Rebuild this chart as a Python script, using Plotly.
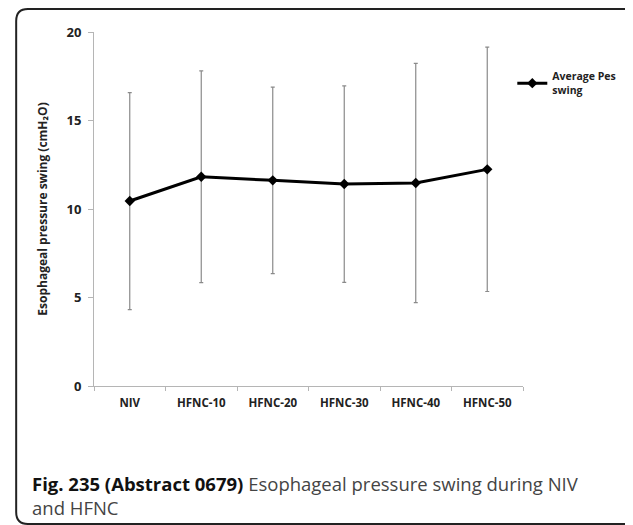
import plotly.graph_objects as go

# values
categories = ["NIV", "HFNC-10", "HFNC-20", "HFNC-30", "HFNC-40", "HFNC-50"]
avg_pes_swing = [10.45, 11.82, 11.62, 11.41, 11.47, 12.24]
sd_pes_swing = [6.13, 5.98, 5.27, 5.55, 6.76, 6.9]

y_ticks = [0, 5, 10, 15, 20]

# page body has an 8px margin, so the figure is drawn 8px smaller
W, H = 625, 517
L, T = 86, 24
pw, ph = 441, 354
R = W - L - pw
B = H - T - ph
OFF = 8


def px_x(x):
	# screen pixel -> paper x
	return (x - OFF - L) / pw


def px_y(y):
	# screen pixel -> paper y
	return (T + ph - (y - OFF)) / ph


fig = go.Figure()
fig.add_trace(go.Scatter(
	name="Average Pes<br>swing",
	x=categories,
	y=avg_pes_swing,
	mode="lines+markers",
	line=dict(color="black", width=3),
	marker=dict(symbol="diamond", size=8, color="black"),
	error_y=dict(type="data", array=sd_pes_swing, visible=True,
		color="#8a8a8a", thickness=1.2, width=2)))

fig.update_layout(
	width=W, height=H,
	margin=dict(l=L, r=R, t=T, b=B),
	plot_bgcolor="white", paper_bgcolor="white",
	font=dict(family="Open Sans", color="#222"),
	showlegend=True,
	legend=dict(x=px_x(524), y=px_y(63), xanchor="left", yanchor="top",
		font=dict(size=10.5, color="#222", weight="bold"),
		itemwidth=30, bgcolor="rgba(0,0,0,0)", tracegroupgap=0))

fig.update_xaxes(
	range=[-0.5, 5.5],
	showgrid=False, showline=True, linecolor="#b5b5b5", linewidth=1,
	ticks="outside", tickson="boundaries", ticklen=4, tickcolor="#b5b5b5",
	ticklabelstandoff=6,
	tickfont=dict(size=11.5, color="#222", weight="bold"))

fig.update_yaxes(
	range=[0, 20], tickvals=y_ticks,
	showgrid=False, zeroline=False, showline=True, linecolor="#b5b5b5", linewidth=1,
	ticks="outside", ticklen=5, tickcolor="#b5b5b5",
	ticklabelstandoff=4,
	tickfont=dict(size=13, color="#222", weight="bold"),
	title=dict(text="Esophageal pressure swing (cmH\u2082O)",
		font=dict(size=12, color="#222", weight="bold"), standoff=16))

# rounded frame around the figure
x0, x1 = px_x(14), px_x(645)
yt, yb = px_y(9), px_y(524)
rx, ry = 12 / pw, 12 / ph
path = (f"M {x1},{yt} L {x0 + rx},{yt} Q {x0},{yt} {x0},{yt - ry} "
	f"L {x0},{yb + ry} Q {x0},{yb} {x0 + rx},{yb} L {x1},{yb}")
fig.add_shape(type="path", path=path, xref="paper", yref="paper",
	line=dict(color="#222", width=2))

fig.add_annotation(
	text="<b>Fig. 235 (Abstract 0679)</b> <span style='color:#444'>Esophageal pressure swing during NIV<br>and HFNC</span>",
	xref="paper", yref="paper", x=px_x(28), y=px_y(469),
	xanchor="left", yanchor="top", align="left", showarrow=False,
	font=dict(size=18.5, color="#111", family="Open Sans"))

fig.write_html("out.html")
